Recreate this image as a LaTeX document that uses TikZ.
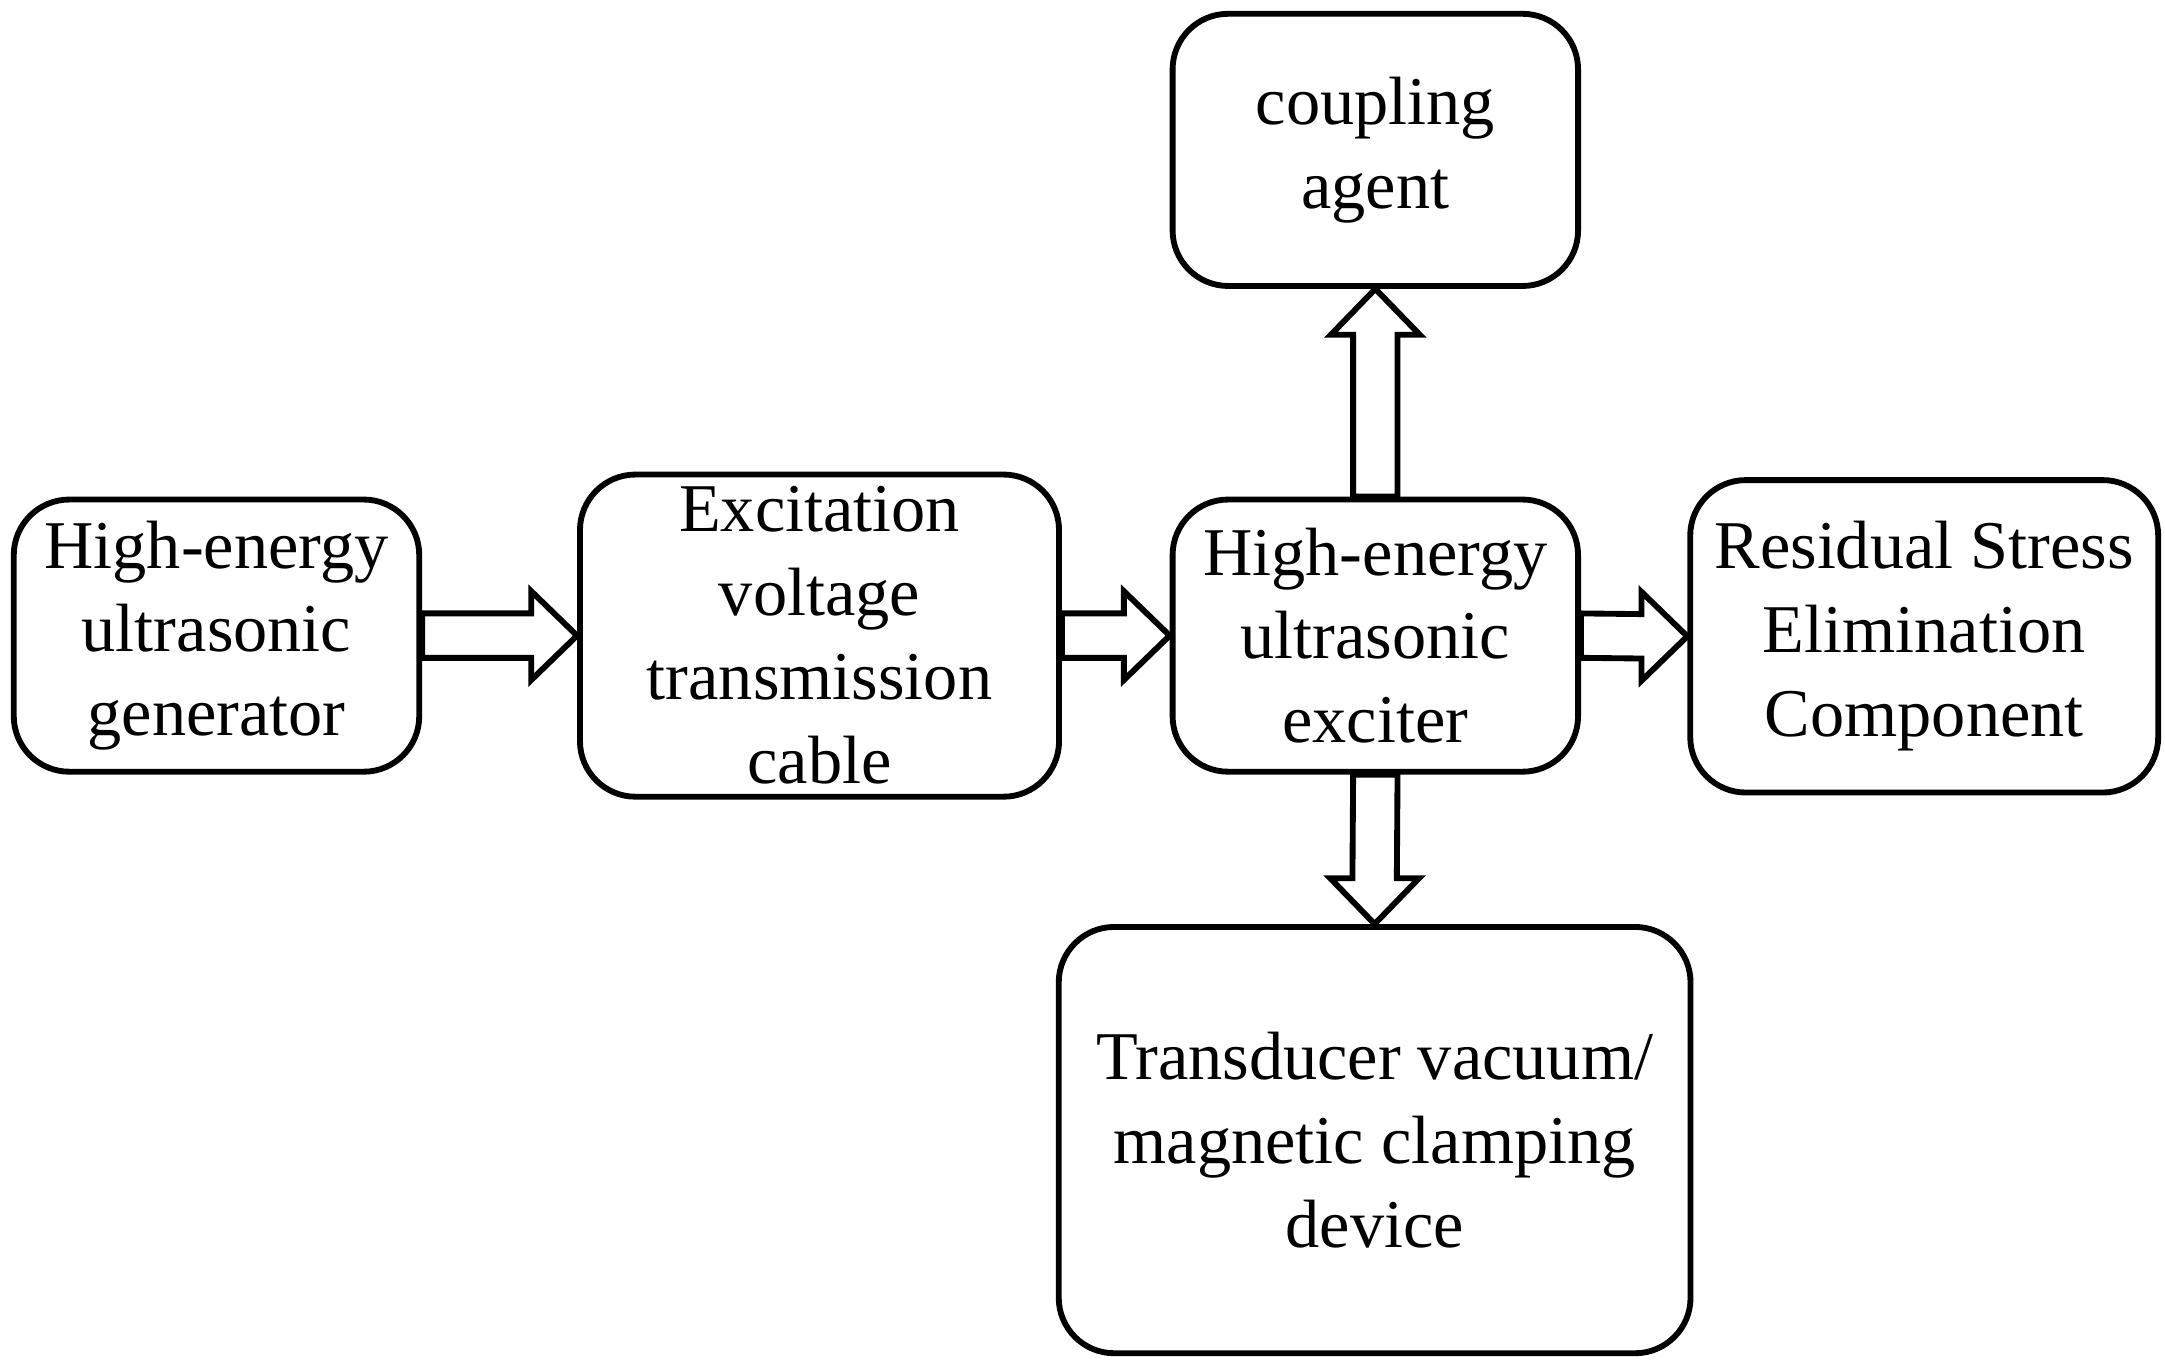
\documentclass[tikz,border=0pt]{standalone}
\usepackage{fontspec}
\setmainfont{Liberation Serif}
\usetikzlibrary{calc}
% hollow block arrows between two named nodes
\newcommand{\harrowbetween}[2]{%
  \draw[line width=1.2pt,fill=white] ($(#1.east)+(0,-16)$) -- ($(#2.west)+(-33,-16)$) -- ($(#2.west)+(-33,-32)$) -- (#2.west)
    -- ($(#2.west)+(-33,32)$) -- ($(#2.west)+(-33,16)$) -- ($(#1.east)+(0,16)$) -- cycle;}
\newcommand{\varrowbetween}[3]{% from, to anchor of target, sign
  \draw[line width=1.2pt,fill=white] ($(#1)+(-16,0)$) -- ($(#2)+(-16,#3*33)$) -- ($(#2)+(-32,#3*33)$) -- (#2)
    -- ($(#2)+(32,#3*33)$) -- ($(#2)+(16,#3*33)$) -- ($(#1)+(16,0)$) -- cycle;}
\begin{document}
\begin{tikzpicture}[x=0.01cm,y=-0.01cm,
  block/.style={draw,line width=1.2pt,rounded corners=0.4cm,align=center,font=\fontsize{14}{17.2}\selectfont,inner sep=0pt}]
\useasboundingbox (0,0) rectangle (1560,988);
\node[block,minimum width=2.92cm,minimum height=1.96cm] (gen) at (156,458) {High-energy\\ultrasonic\\generator};
\node[block,minimum width=3.45cm,minimum height=2.32cm] (cable) at (590.5,458) {Excitation\\voltage\\transmission\\cable};
\node[block,minimum width=2.92cm,minimum height=1.96cm] (exc) at (991,458) {High-energy\\ultrasonic\\exciter};
\node[block,minimum width=3.37cm,minimum height=2.25cm] (res) at (1386.5,458.5) {Residual Stress\\Elimination\\Component};
\node[block,minimum width=2.92cm,minimum height=1.96cm] (coup) at (991,108) {coupling\\agent};
\node[block,minimum width=4.55cm,minimum height=3.07cm] (clamp) at (990.5,821.5) {Transducer vacuum/\\magnetic clamping\\device};
\harrowbetween{gen}{cable}
\harrowbetween{cable}{exc}
\harrowbetween{exc}{res}
\varrowbetween{exc.north}{coup.south}{1}
\varrowbetween{exc.south}{clamp.north}{-1}
\end{tikzpicture}
\end{document}
